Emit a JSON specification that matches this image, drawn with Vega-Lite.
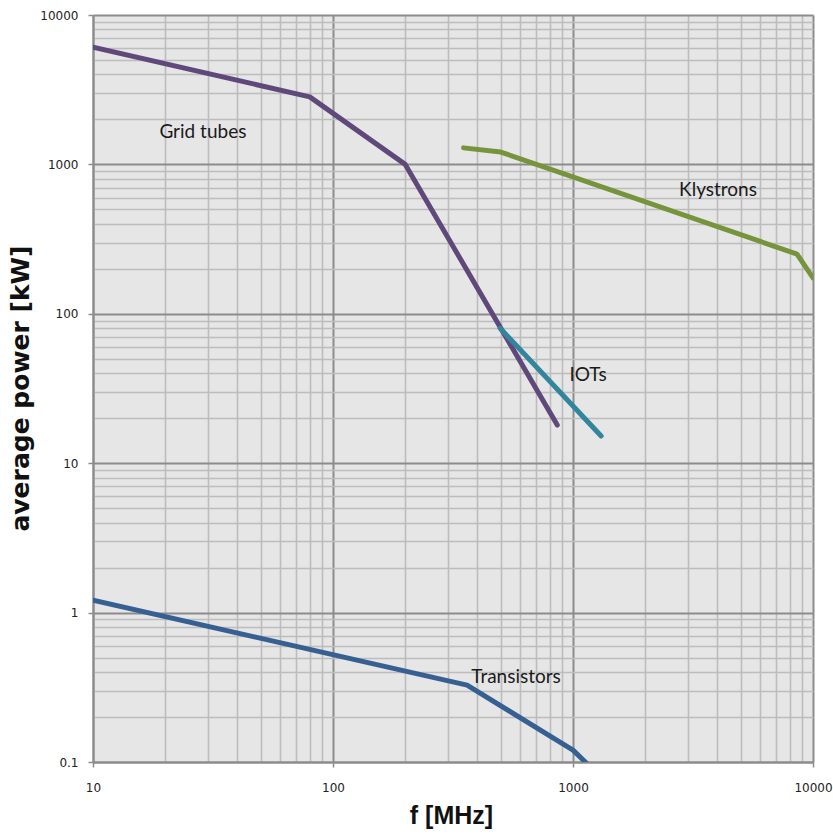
{
  "$schema": "https://vega.github.io/schema/vega-lite/v6.json",
  "width": 720,
  "height": 747,
  "autosize": {"type": "none"},
  "padding": {"left": 93, "top": 15, "right": 20, "bottom": 73},
  "background": "white",
  "config": {
    "view": {"stroke": null, "fill": "#e6e6e6"}
  },
  "datasets": {
    "lines": [
      {"series": "Grid tubes", "f": 10, "p": 6100},
      {"series": "Grid tubes", "f": 80, "p": 2830},
      {"series": "Grid tubes", "f": 200, "p": 1000},
      {"series": "Grid tubes", "f": 860, "p": 18},
      {"series": "IOTs", "f": 497, "p": 80},
      {"series": "IOTs", "f": 1310, "p": 15.2},
      {"series": "Klystrons", "f": 350, "p": 1290},
      {"series": "Klystrons", "f": 500, "p": 1210},
      {"series": "Klystrons", "f": 8580, "p": 251},
      {"series": "Klystrons", "f": 10000, "p": 174},
      {"series": "Transistors", "f": 10, "p": 1.21},
      {"series": "Transistors", "f": 362, "p": 0.327},
      {"series": "Transistors", "f": 1000, "p": 0.12},
      {"series": "Transistors", "f": 1140, "p": 0.098}
    ],
    "labels": [
      {"text": "Grid tubes", "f": 28.7, "p": 1648},
      {"text": "Klystrons", "f": 4020, "p": 674},
      {"text": "IOTs", "f": 1155, "p": 38.9},
      {"text": "Transistors", "f": 579, "p": 0.37}
    ]
  },
  "encoding": {
    "x": {
      "field": "f",
      "type": "quantitative",
      "scale": {"type": "log", "domain": [10, 10000], "nice": false},
      "axis": {
        "title": "f [MHz]",
        "titleFont": "Liberation Sans",
        "titleFontWeight": "bold",
        "titleFontSize": 25,
        "titleColor": "#111",
        "titleX": 358,
        "titleY": 53,
        "titleAlign": "center",
        "titleBaseline": "middle",
        "values": [10,20,30,40,50,60,70,80,90,100,200,300,400,500,600,700,800,900,1000,2000,3000,4000,5000,6000,7000,8000,9000,10000],
        "labelExpr": "abs(log(datum.value)/LN10 - round(log(datum.value)/LN10)) < 1e-6 ? format(datum.value, '~g') : ''",
        "labelFont": "DejaVu Sans",
        "labelFontSize": 12,
        "labelColor": "#222",
        "labelFlush": false,
        "labelOverlap": false,
        "labelPadding": 15,
        "labelBaseline": "top",
        "tickSize": 5,
        "tickColor": "#8c8c8c",
        "tickWidth": 1.5,
        "tickOpacity": {"condition": {"test": "abs(log(datum.value)/LN10 - round(log(datum.value)/LN10)) < 1e-6", "value": 1}, "value": 0},
        "domainColor": "#8c8c8c",
        "domainWidth": 2,
        "grid": true,
        "gridColor": {"condition": {"test": "abs(log(datum.value)/LN10 - round(log(datum.value)/LN10)) < 1e-6", "value": "#8c8c8c"}, "value": "#bdbdbd"},
        "gridWidth": {"condition": {"test": "abs(log(datum.value)/LN10 - round(log(datum.value)/LN10)) < 1e-6", "value": 2}, "value": 1.6},
        "gridOpacity": 1
      }
    },
    "y": {
      "field": "p",
      "type": "quantitative",
      "scale": {"type": "log", "domain": [0.1, 10000], "nice": false},
      "axis": {
        "title": "average power [kW]",
        "titleFont": "DejaVu Sans",
        "titleFontWeight": "bold",
        "titleFontSize": 25,
        "titleColor": "#111",
        "titleX": -73,
        "titleY": 373,
        "titleAngle": -90,
        "titleAlign": "center",
        "titleBaseline": "middle",
        "values": [0.1,0.2,0.3,0.4,0.5,0.6,0.7,0.8,0.9,1,2,3,4,5,6,7,8,9,10,20,30,40,50,60,70,80,90,100,200,300,400,500,600,700,800,900,1000,2000,3000,4000,5000,6000,7000,8000,9000,10000],
        "labelExpr": "abs(log(datum.value)/LN10 - round(log(datum.value)/LN10)) < 1e-6 ? format(datum.value, '~g') : ''",
        "labelFont": "DejaVu Sans",
        "labelFontSize": 12,
        "labelColor": "#222",
        "labelFlush": false,
        "labelOverlap": false,
        "labelPadding": 10,
        "tickSize": 5,
        "tickColor": "#8c8c8c",
        "tickWidth": 1.5,
        "tickOpacity": {"condition": {"test": "abs(log(datum.value)/LN10 - round(log(datum.value)/LN10)) < 1e-6", "value": 1}, "value": 0},
        "domainColor": "#8c8c8c",
        "domainWidth": 2,
        "grid": true,
        "gridColor": {"condition": {"test": "abs(log(datum.value)/LN10 - round(log(datum.value)/LN10)) < 1e-6", "value": "#8c8c8c"}, "value": "#bdbdbd"},
        "gridWidth": {"condition": {"test": "abs(log(datum.value)/LN10 - round(log(datum.value)/LN10)) < 1e-6", "value": 2}, "value": 1.6},
        "gridOpacity": 1
      }
    }
  },
  "layer": [
    {
      "data": {"name": "lines"},
      "mark": {"type": "line", "strokeWidth": 5, "strokeCap": "round", "strokeJoin": "round", "clip": true},
      "encoding": {
        "color": {
          "field": "series",
          "type": "nominal",
          "scale": {"domain": ["Grid tubes", "IOTs", "Klystrons", "Transistors"], "range": ["#60497a", "#31859c", "#77933c", "#376092"]},
          "legend": null
        }
      }
    },
    {
      "data": {"name": "labels"},
      "mark": {"type": "text", "font": "Lato", "fontSize": 19, "color": "#1a1a1a", "align": "center", "baseline": "middle"},
      "encoding": {"text": {"field": "text"}}
    }
  ]
}
